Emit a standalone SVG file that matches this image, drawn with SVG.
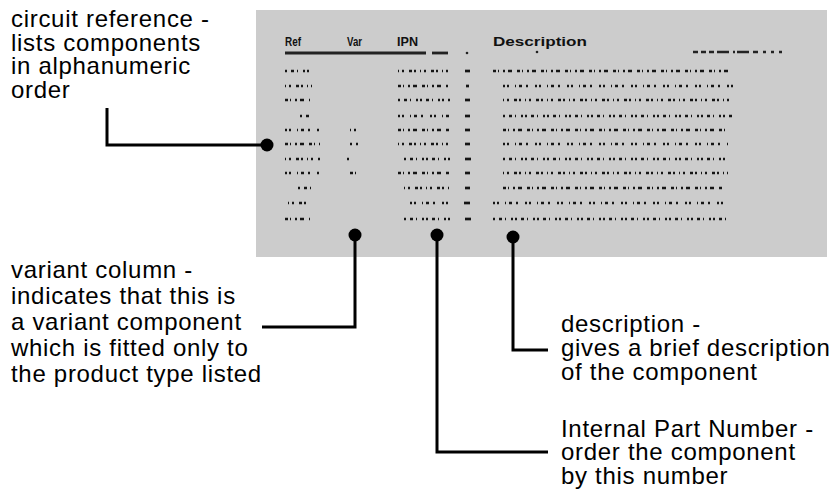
<svg xmlns="http://www.w3.org/2000/svg" width="833" height="492" viewBox="0 0 833 492">
<style>
.lbl{font-family:"Liberation Sans",Arial,Helvetica,sans-serif;font-size:24px;letter-spacing:0.7px;fill:#000}
.hdr{font-family:"Liberation Sans",Arial,sans-serif;font-size:12px;font-weight:bold;fill:#111}
.conn{fill:none;stroke:#000;stroke-width:3}
.dot{fill:#000}
.d{stroke:#151515;stroke-width:2.7;fill:none}
.a{stroke-dasharray:2 4 3 3 1 5 2 2}
.b{stroke-dasharray:1 3 2 5 3 2 2 4}
.c{stroke-dasharray:3 2 1 4 2 3 4 5}
.e{stroke-dasharray:2 2 2 6 1 3 3 4 2 7}
</style>
<rect x="256" y="10" width="571" height="247" fill="#cccccc"/>
<g id="table">
<text class="hdr" x="285" y="46" textLength="16" lengthAdjust="spacingAndGlyphs">Ref</text>
<text class="hdr" x="347" y="46" textLength="15" lengthAdjust="spacingAndGlyphs">Var</text>
<text class="hdr" x="397" y="46" textLength="21" lengthAdjust="spacingAndGlyphs">IPN</text>
<text class="hdr" x="493" y="46" textLength="94" lengthAdjust="spacingAndGlyphs">Description</text>
<line x1="285" y1="53" x2="426" y2="53" stroke="#222" stroke-width="2.8"/>
<line x1="432" y1="53" x2="448" y2="53" stroke="#222" stroke-width="2.8"/>
<circle cx="467" cy="53" r="1.3" fill="#222"/>
<circle cx="537" cy="52" r="1.3" fill="#222"/>
<line x1="693" y1="52" x2="790" y2="52" stroke="#222" stroke-width="2.4" stroke-dasharray="5 3 5 3 5 3 12 4 2 2 12 4 5"/>
<g class="d">
<line class="a" x1="285" y1="71" x2="310" y2="71"/><line class="b" x1="398" y1="71" x2="450" y2="71"/><line x1="465" y1="71" x2="470" y2="71"/><line class="c" x1="493" y1="71" x2="733" y2="71"/>
<line class="b" x1="285" y1="86" x2="312" y2="86"/><line class="c" x1="398" y1="86" x2="448" y2="86"/><line x1="466" y1="86" x2="469" y2="86"/><line class="e" x1="503" y1="86" x2="736" y2="86"/>
<line class="c" x1="285" y1="100" x2="310" y2="100"/><line class="a" x1="398" y1="100" x2="450" y2="100"/><line x1="465" y1="100" x2="470" y2="100"/><line class="b" x1="503" y1="100" x2="733" y2="100"/>
<line class="a" x1="300" y1="116" x2="312" y2="116"/><line class="e" x1="398" y1="116" x2="450" y2="116"/><line x1="465" y1="116" x2="470" y2="116"/><line class="a" x1="503" y1="116" x2="733" y2="116"/>
<line class="e" x1="285" y1="130" x2="320" y2="130"/><line class="b" x1="350" y1="130" x2="360" y2="130"/><line class="c" x1="398" y1="130" x2="450" y2="130"/><line x1="465" y1="130" x2="470" y2="130"/><line class="c" x1="503" y1="130" x2="728" y2="130"/>
<line class="c" x1="285" y1="144" x2="320" y2="144"/><line class="a" x1="350" y1="144" x2="358" y2="144"/><line class="b" x1="398" y1="144" x2="450" y2="144"/><line x1="465" y1="144" x2="470" y2="144"/><line class="e" x1="503" y1="144" x2="728" y2="144"/>
<line class="b" x1="285" y1="159" x2="320" y2="159"/><line x1="347" y1="159" x2="349" y2="159"/><line class="a" x1="404" y1="159" x2="450" y2="159"/><line x1="465" y1="159" x2="471" y2="159"/><line class="a" x1="503" y1="159" x2="728" y2="159"/>
<line class="e" x1="285" y1="173" x2="320" y2="173"/><line class="c" x1="350" y1="173" x2="360" y2="173"/><line class="c" x1="398" y1="173" x2="450" y2="173"/><line x1="465" y1="173" x2="470" y2="173"/><line class="b" x1="503" y1="173" x2="728" y2="173"/>
<line class="a" x1="298" y1="188" x2="316" y2="188"/><line class="b" x1="404" y1="188" x2="450" y2="188"/><line x1="465" y1="188" x2="470" y2="188"/><line class="c" x1="503" y1="188" x2="722" y2="188"/>
<line class="b" x1="288" y1="203" x2="310" y2="203"/><line class="e" x1="410" y1="203" x2="450" y2="203"/><line x1="464" y1="203" x2="470" y2="203"/><line class="e" x1="493" y1="203" x2="728" y2="203"/>
<line class="c" x1="285" y1="219" x2="310" y2="219"/><line class="a" x1="404" y1="219" x2="450" y2="219"/><line x1="465" y1="219" x2="471" y2="219"/><line class="a" x1="493" y1="219" x2="728" y2="219"/>
</g>
</g>
<g id="connectors">
<path class="conn" d="M107,108 V145 H267"/>
<path class="conn" d="M355,235 V327 H262"/>
<path class="conn" d="M437,235 V452 H548"/>
<path class="conn" d="M513,237 V350 H548"/>
<circle class="dot" cx="267" cy="145" r="6.5"/>
<circle class="dot" cx="355" cy="235" r="6.5"/>
<circle class="dot" cx="437" cy="235" r="6.5"/>
<circle class="dot" cx="513" cy="237" r="6.5"/>
</g>
<g id="label-circuit-reference">
<text class="lbl" x="11" y="27">circuit reference -</text>
<text class="lbl" x="11" y="50.5">lists components</text>
<text class="lbl" x="11" y="74">in alphanumeric</text>
<text class="lbl" x="11" y="97.5">order</text>
</g>
<g id="label-variant">
<text class="lbl" x="11" y="278">variant column -</text>
<text class="lbl" x="11" y="304">indicates that this is</text>
<text class="lbl" x="11" y="330">a variant component</text>
<text class="lbl" x="11" y="356">which is fitted only to</text>
<text class="lbl" x="11" y="382">the product type listed</text>
</g>
<g id="label-description">
<text class="lbl" x="561" y="332">description -</text>
<text class="lbl" x="561" y="356">gives a brief description</text>
<text class="lbl" x="561" y="380">of the component</text>
</g>
<g id="label-ipn">
<text class="lbl" x="561" y="436.5">Internal Part Number -</text>
<text class="lbl" x="561" y="460">order the component</text>
<text class="lbl" x="561" y="483.5">by this number</text>
</g>
</svg>
